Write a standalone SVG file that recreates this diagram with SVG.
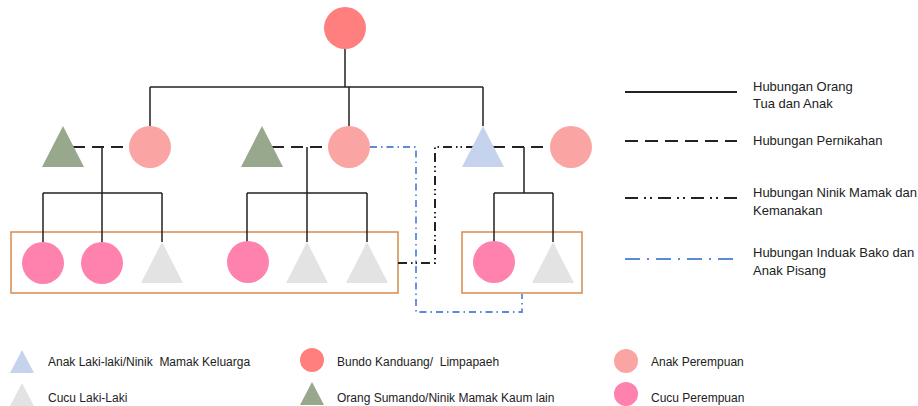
<svg xmlns="http://www.w3.org/2000/svg" width="918" height="406" viewBox="0 0 918 406">
<style>
text{font-family:"Liberation Sans",Arial,sans-serif;fill:#222;white-space:pre}
.lg{font-size:13px}
.lb{font-size:12px}
.pc{fill:none;stroke:#222;stroke-width:1.5}
.mar{fill:none;stroke:#222;stroke-width:2;stroke-dasharray:12 7}
.nm{fill:none;stroke:#222;stroke-width:2;stroke-dasharray:9 4 1.5 3 1.5 4}
.ib{fill:none;stroke:#5B8AD6;stroke-width:1.8;stroke-dasharray:7 4 1.5 4}
.box{fill:none;stroke:#D58B4F;stroke-width:1.5}
.bk{fill:#FF7F7F}
.ap{fill:#FAA5A3}
.cp{fill:#FF81AE}
.sm{fill:#97A88D}
.al{fill:#C5D3EC}
.cl{fill:#E3E3E3}
</style>
<g id="boxes">
<rect class="box" x="11" y="232" width="387" height="61"/>
<rect class="box" x="462" y="232" width="120" height="61"/>
</g>
<g id="connectors">
<path class="pc" d="M345,49V87M150,87H483M150,87V126M349,87V126M483,87V126"/>
<path class="pc" d="M102,147V193M43,193H162M43,193V242M102,193V242M162,193V242"/>
<path class="pc" d="M307,147V193M247,193H367M247,193V242M307,193V242M367,193V242"/>
<path class="pc" d="M524,147V193M494,193H553M494,193V242M553,193V242"/>
<path class="mar" d="M73,147H129"/>
<path class="mar" d="M272,147H328"/>
<path class="mar" d="M493,147H550"/>
<path class="nm" d="M398,263H435V147H473"/>
<path class="ib" d="M370,147H416V312H522V294"/>
</g>
<g id="n-bundo"><circle class="bk" cx="345" cy="28" r="21"/></g>
<g id="n-sumando1"><polygon class="sm" points="63,126 42,167 84,167"/></g>
<g id="n-anak1"><circle class="ap" cx="150" cy="147" r="21"/></g>
<g id="n-sumando2"><polygon class="sm" points="262,126 241,167 283,167"/></g>
<g id="n-anak2"><circle class="ap" cx="349" cy="147" r="21"/></g>
<g id="n-anaklaki"><polygon class="al" points="483,126 462,167 504,167"/></g>
<g id="n-istri"><circle class="ap" cx="571" cy="147" r="21"/></g>
<g id="n-cucu1"><circle class="cp" cx="43" cy="263" r="21"/></g>
<g id="n-cucu2"><circle class="cp" cx="102" cy="263" r="21"/></g>
<g id="n-cucu3"><polygon class="cl" points="162,242 141,283 183,283"/></g>
<g id="n-cucu4"><circle class="cp" cx="248" cy="262" r="21"/></g>
<g id="n-cucu5"><polygon class="cl" points="307,242 286,283 328,283"/></g>
<g id="n-cucu6"><polygon class="cl" points="367,242 346,283 388,283"/></g>
<g id="n-cucu7"><circle class="cp" cx="494" cy="262" r="21"/></g>
<g id="n-cucu8"><polygon class="cl" points="553,242 532,283 574,283"/></g>
<g id="legend-lines">
<line x1="625" y1="92" x2="737" y2="92" stroke="#222" stroke-width="2"/>
<line x1="625" y1="141" x2="737" y2="141" stroke="#222" stroke-width="2" stroke-dasharray="13 7"/>
<line x1="625" y1="198" x2="737" y2="198" stroke="#222" stroke-width="2" stroke-dasharray="13 6 2 4 2 6"/>
<line x1="625" y1="259" x2="737" y2="259" stroke="#5B8AD6" stroke-width="2" stroke-dasharray="15 7 2 7"/>
<text class="lg" x="753" y="90.5">Hubungan Orang</text>
<text class="lg" x="753" y="107.5">Tua dan Anak</text>
<text class="lg" x="753" y="144.5">Hubungan Pernikahan</text>
<text class="lg" x="753" y="197">Hubungan Ninik Mamak dan</text>
<text class="lg" x="753" y="215">Kemanakan</text>
<text class="lg" x="753" y="257">Hubungan Induak Bako dan</text>
<text class="lg" x="753" y="275">Anak Pisang</text>
</g>
<g id="legend-symbols">
<polygon class="al" points="22,350 10,373 34,373"/>
<text class="lb" x="48" y="366">Anak Laki-laki/Ninik  Mamak Keluarga</text>
<polygon class="cl" points="22,383 10,406 34,406"/>
<text class="lb" x="48" y="402">Cucu Laki-Laki</text>
<circle class="bk" cx="312" cy="360" r="12"/>
<text class="lb" x="337" y="366">Bundo Kanduang/  Limpapaeh</text>
<polygon class="sm" points="312,382 300,405 324,405"/>
<text class="lb" x="337" y="402">Orang Sumando/Ninik Mamak Kaum lain</text>
<circle class="ap" cx="626" cy="361" r="12"/>
<text class="lb" x="651" y="366">Anak Perempuan</text>
<circle class="cp" cx="626" cy="394" r="12"/>
<text class="lb" x="651" y="402">Cucu Perempuan</text>
</g>
</svg>
